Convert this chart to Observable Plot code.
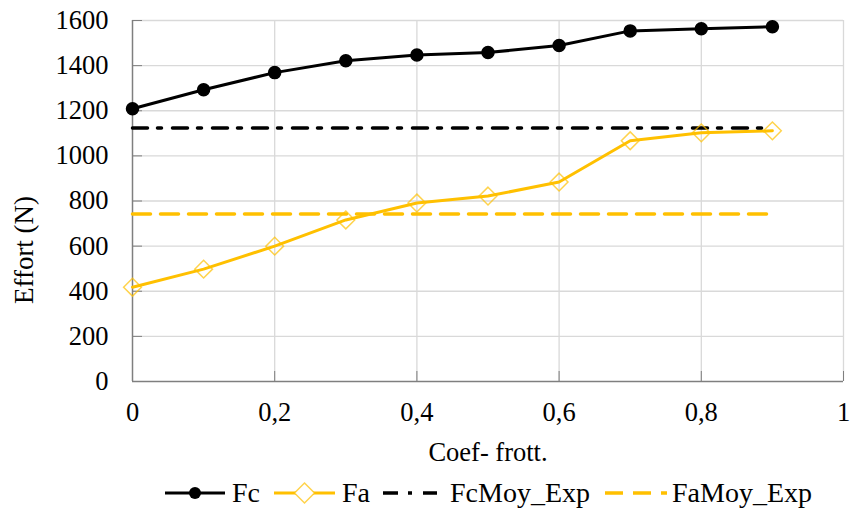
<!DOCTYPE html>
<html>
<head>
<meta charset="utf-8">
<script src="https://cdn.jsdelivr.net/npm/d3@7"></script>
<script src="https://cdn.jsdelivr.net/npm/@observablehq/plot@0.6"></script>
<style>
  body { margin: 0; background: white; }
  #legend { position: relative; width: 850px; height: 46px; font-family: "Liberation Serif", "Times New Roman", serif; font-size: 28px; color: #000; }
  #legend svg, #legend span { position: absolute; }
  #legend span { line-height: 1; transform: translateY(-50%); white-space: nowrap; }
</style>
</head>
<body>
<div id="chart"></div>
<div id="legend"></div>
<script>
const coef = [0, 0.1, 0.2, 0.3, 0.4, 0.5, 0.6, 0.7, 0.8, 0.9];
const fc = [1209, 1293, 1369, 1422, 1447, 1458, 1489, 1554, 1563, 1572];
const fa = [418, 498, 600, 716, 791, 822, 884, 1067, 1102, 1111];
const fcMoyExp = 1124;
const faMoyExp = 742;
const xTicks = [0, 0.2, 0.4, 0.6, 0.8, 1];
const xTickLabels = ["0", "0,2", "0,4", "0,6", "0,8", "1"];
const yTicks = [0, 200, 400, 600, 800, 1000, 1200, 1400, 1600];
const seriesNames = ["Fc", "Fa", "FcMoy_Exp", "FaMoy_Exp"];
const xTitle = "Coef- frott.";
const yTitle = "Effort (N)";

const FONT = "'Liberation Serif', 'Times New Roman', serif";
const GOLD = "#FFC000";
const fcData = coef.map((x, i) => ({x, y: fc[i]}));
const faData = coef.map((x, i) => ({x, y: fa[i]}));
const fcMoyData = [{x: coef[0], y: fcMoyExp}, {x: coef[coef.length - 1], y: fcMoyExp}];
const faMoyData = [{x: coef[0], y: faMoyExp}, {x: coef[coef.length - 1], y: faMoyExp}];

const chart = Plot.plot({
  width: 850,
  height: 465,
  marginLeft: 132,
  marginRight: 7,
  marginTop: 20,
  marginBottom: 84,
  style: {fontFamily: FONT, fontSize: "26.5px", color: "#000", background: "white"},
  x: {domain: [0, 1]},
  y: {domain: [0, 1600]},
  marks: [
    Plot.gridX(xTicks.slice(1), {stroke: "#d9d9d9", strokeOpacity: 1, strokeWidth: 1.3}),
    Plot.gridY(yTicks.slice(1), {stroke: "#d9d9d9", strokeOpacity: 1, strokeWidth: 1.3}),
    Plot.axisX(xTicks, {tickSize: -10, stroke: "#7f7f7f", tickPadding: 31, tickFormat: (d, i) => xTickLabels[i], fontSize: 26.5,
      label: xTitle, labelAnchor: "center", labelOffset: 79, labelArrow: false}),
    Plot.axisY(yTicks, {tickSize: -10, stroke: "#7f7f7f", tickPadding: 34, tickFormat: d => String(d), label: null, fontSize: 26.5}),
    Plot.ruleX([0], {stroke: "#7f7f7f", strokeWidth: 1.5}),
    Plot.ruleY([0], {stroke: "#7f7f7f", strokeWidth: 1.5}),
    Plot.line(fcData, {x: "x", y: "y", stroke: "#000", strokeWidth: 3}),
    Plot.line(faData, {x: "x", y: "y", stroke: GOLD, strokeWidth: 3}),
    Plot.line(fcMoyData, {x: "x", y: "y", stroke: "#000", strokeWidth: 3.5, strokeDasharray: "15,10,4,11"}),
    Plot.line(faMoyData, {x: "x", y: "y", stroke: GOLD, strokeWidth: 3.5, strokeDasharray: "18,10"}),
    Plot.dot(fcData, {x: "x", y: "y", r: 6, fill: "#000", stroke: "#000"}),
    Plot.dot(faData, {x: "x", y: "y", r: 8, symbol: "diamond2", fill: "none", stroke: GOLD, strokeOpacity: 0.7, strokeWidth: 1.5})
  ]
});
// y-axis title (rotated), placed beside the axis
d3.select(chart).append("text")
  .attr("transform", "translate(24,250) rotate(-90)")
  .attr("text-anchor", "middle")
  .attr("dominant-baseline", "central")
  .attr("font-family", FONT)
  .attr("font-size", 27)
  .attr("fill", "#000")
  .text(yTitle);
document.getElementById("chart").appendChild(chart);

// Legend
const legend = document.getElementById("legend");
const ns = "http://www.w3.org/2000/svg";
const CY = 28; // legend centre line within legend box
const layout = [ {sx: 165, w: 60, tx: 232}, {sx: 274, w: 61, tx: 342}, {sx: 383, w: 54, tx: 450}, {sx: 605, w: 62, tx: 672} ];
function swatch(w, draw) {
  const s = document.createElementNS(ns, "svg");
  s.setAttribute("width", w); s.setAttribute("height", 24);
  draw(s, w);
  return s;
}
function line(s, w, color, dash, sw) {
  const l = document.createElementNS(ns, "line");
  l.setAttribute("x1", 0); l.setAttribute("x2", w); l.setAttribute("y1", 12); l.setAttribute("y2", 12);
  l.setAttribute("stroke", color); l.setAttribute("stroke-width", sw);
  if (dash) l.setAttribute("stroke-dasharray", dash);
  s.appendChild(l);
}
const swatches = [
  swatch(60, (s, w) => { line(s, w, "#000", null, 3); const c = document.createElementNS(ns, "circle"); c.setAttribute("cx", w/2); c.setAttribute("cy", 12); c.setAttribute("r", 6); s.appendChild(c); }),
  swatch(61, (s, w) => { line(s, w, GOLD, null, 3); const p = document.createElementNS(ns, "path"); p.setAttribute("d", `M${w/2},2L${w/2+10},12L${w/2},22L${w/2-10},12Z`); p.setAttribute("fill", "white"); p.setAttribute("stroke", GOLD); p.setAttribute("stroke-opacity", 0.7); p.setAttribute("stroke-width", 1.5); s.appendChild(p); }),
  swatch(54, (s, w) => line(s, w, "#000", "15,10,4,11", 3.5)),
  swatch(62, (s, w) => line(s, w, GOLD, "18,10", 3.5))
];
seriesNames.forEach((name, i) => {
  const sw = swatches[i];
  sw.style.left = layout[i].sx + "px";
  sw.style.top = (CY - 12) + "px";
  legend.appendChild(sw);
  const t = document.createElement("span");
  t.textContent = name;
  t.style.left = layout[i].tx + "px";
  t.style.top = CY + "px";
  legend.appendChild(t);
});
</script>
</body>
</html>
